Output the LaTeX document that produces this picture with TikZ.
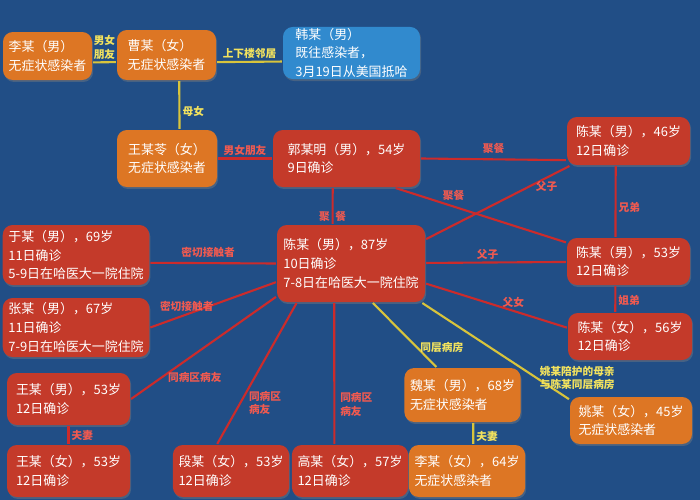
\documentclass[tikz,border=0pt]{standalone}
\usepackage{fontspec}
\setmainfont{Noto Sans CJK SC}
\usetikzlibrary{shadows}
\definecolor{cbg}{HTML}{214E86}
\definecolor{cred}{HTML}{C43A2A}
\definecolor{corange}{HTML}{DD7624}
\definecolor{cblue}{HTML}{318ACE}
\definecolor{credline}{HTML}{CC2B2B}
\definecolor{cyelline}{HTML}{D8C43C}
\definecolor{credtext}{HTML}{F05A50}
\definecolor{cyeltext}{HTML}{F2E25E}
\tikzset{
  every picture/.style={line width=1.5pt},
  case/.style={fill=#1, rounded corners=7pt, text=white, align=left, inner xsep=4pt, inner ysep=1pt,
    font=\fontsize{9.2}{13.2}\selectfont, drop shadow={opacity=0.4, shadow xshift=0.8pt, shadow yshift=-1.4pt}},
  case/.default=cred,
  sz/.style 2 args={minimum width=#1*0.025cm, minimum height=#2*0.025cm},
  redlink/.style={draw=credline},
  yellink/.style={draw=cyelline},
  rtag/.style={text=credtext, font=\fontsize{7.6}{9.5}\selectfont\bfseries, align=left, inner sep=1.5pt},
  ytag/.style={text=cyeltext, font=\fontsize{7.6}{9.5}\selectfont\bfseries, align=left, inner sep=1.5pt},
}
\begin{document}
\begin{tikzpicture}[x=0.025cm, y=-0.025cm]
  \fill[cbg] (0,0) rectangle (700,500);
  % top row
  \node[case=corange, sz={89}{48}] (li1) at (47.5,56) {李某（男）\\无症状感染者};
  \node[case=corange, sz={99}{50}] (cao) at (166.5,55) {曹某（女）\\无症状感染者};
  \node[case=cblue, sz={137}{50}] (han) at (351.5,53) {韩某（男）\\既往感染者，\\3月19日从美国抵哈};
  \node[case=corange, sz={100}{57}] (wang) at (167,158.5) {王某苓（女）\\无症状感染者};
  \node[case, sz={147}{57}] (guo) at (346.5,158.5) {郭某明（男），54岁\\9日确诊};
  % chen family
  \node[case, sz={123}{48}] (c46) at (628.5,141) {陈某（男），46岁\\12日确诊};
  \node[case, sz={123}{47}] (c53) at (628.5,261.5) {陈某（男），53岁\\12日确诊};
  \node[case, sz={124}{47}] (c56) at (630,336.5) {陈某（女），56岁\\12日确诊};
  \node[case=corange, sz={122}{47}] (yao) at (631,420.5) {姚某（女），45岁\\无症状感染者};
  \node[case, sz={148}{77}] (c87) at (351,263.5) {陈某（男），87岁\\10日确诊\\7-8日在哈医大一院住院};
  % hospital
  \node[case, sz={142}{60}] (yu) at (76,255) {于某（男），69岁\\11日确诊\\5-9日在哈医大一院住院};
  \node[case, sz={142}{59}] (zhang) at (76,327.5) {张某（男），67岁\\11日确诊\\7-9日在哈医大一院住院};
  \node[case, sz={123}{52}] (wm) at (68.5,399) {王某（男），53岁\\12日确诊};
  \node[case, sz={123}{52}] (wf) at (68.5,471) {王某（女），53岁\\12日确诊};
  \node[case, sz={112}{52}] (duan) at (231,471) {段某（女），53岁\\12日确诊};
  \node[case, sz={110}{52}] (gao) at (350,471) {高某（女），57岁\\12日确诊};
  \node[case=corange, sz={111}{54}] (wei) at (462.5,395) {魏某（男），68岁\\无症状感染者};
  \node[case=corange, sz={110}{52}] (lif) at (467,471) {李某（女），64岁\\无症状感染者};

  \draw[yellink] (li1.-8) -- node[ytag, above, align=center] {男女\\朋友} (cao.188);
  \draw[yellink] (cao.-8) -- node[ytag, above] {上下楼邻居} (han.187);
  \draw[yellink] (cao.-64) -- node[ytag, pos=0.64, right] {母女} (wang.67);
  \draw[redlink] (wang) -- node[rtag, above] {男女朋友} (guo);
  \draw[redlink] (guo.east) -- node[rtag, above=2pt] {聚餐} (c46.197);
  \draw[redlink] (guo.-31.5) -- node[rtag, pos=0.34, above=2pt] {聚餐} (c53.163);
  \draw[redlink] (guo.245) -- node[rtag, pos=0.79] {聚\hspace{4pt}餐} (c87.115);
  \draw[redlink] (c87.18) -- node[rtag, pos=0.84, below] {父子} (c46.203);
  \draw[redlink] (c87) -- node[rtag, pos=0.44, above] {父子} (c53);
  \draw[redlink] (c87.-15) -- node[rtag, pos=0.62, above] {父女} (c56.172);
  \draw[redlink] (c46.-117.5) -- node[rtag, pos=0.59, right] {兄弟} (c53.118);
  \draw[redlink] (c53.-118) -- node[rtag, pos=0.57, right] {姐弟} (c56.121);
  \draw[redlink] (yu.-6) -- node[rtag, pos=0.46, above=2pt] {密切接触者} (c87.west);
  \draw[redlink] (zhang.east) -- node[rtag, pos=0.29, above] {密切接触者} (c87.194);
  \draw[redlink] (wm.east) -- node[rtag, pos=0.44, below=11pt] {同病区病友} (c87.204);
  \draw[redlink] (duan.117) -- node[rtag, pos=0.29, right=4pt] {同病区\\病友} (c87.216);
  \draw[redlink] (gao.120) -- node[rtag, pos=0.28, right=2pt] {同病区\\病友} (c87.247);
  \draw[yellink] (c87.-61) -- node[ytag, pos=0.7, right] {同层病房} (wei.133);
  \draw[yellink] (c87.-29) -- node[ytag, pos=0.78, anchor=west] {姚某陪护的母亲\\与陈某同层病房} (yao.161);
  \draw[redlink] (wm) -- node[rtag, pos=0.55, right] {夫妻} (wf);
  \draw[yellink] (wei.-69) -- node[ytag, pos=0.65, right] {夫妻} (lif.77);
\end{tikzpicture}
\end{document}
